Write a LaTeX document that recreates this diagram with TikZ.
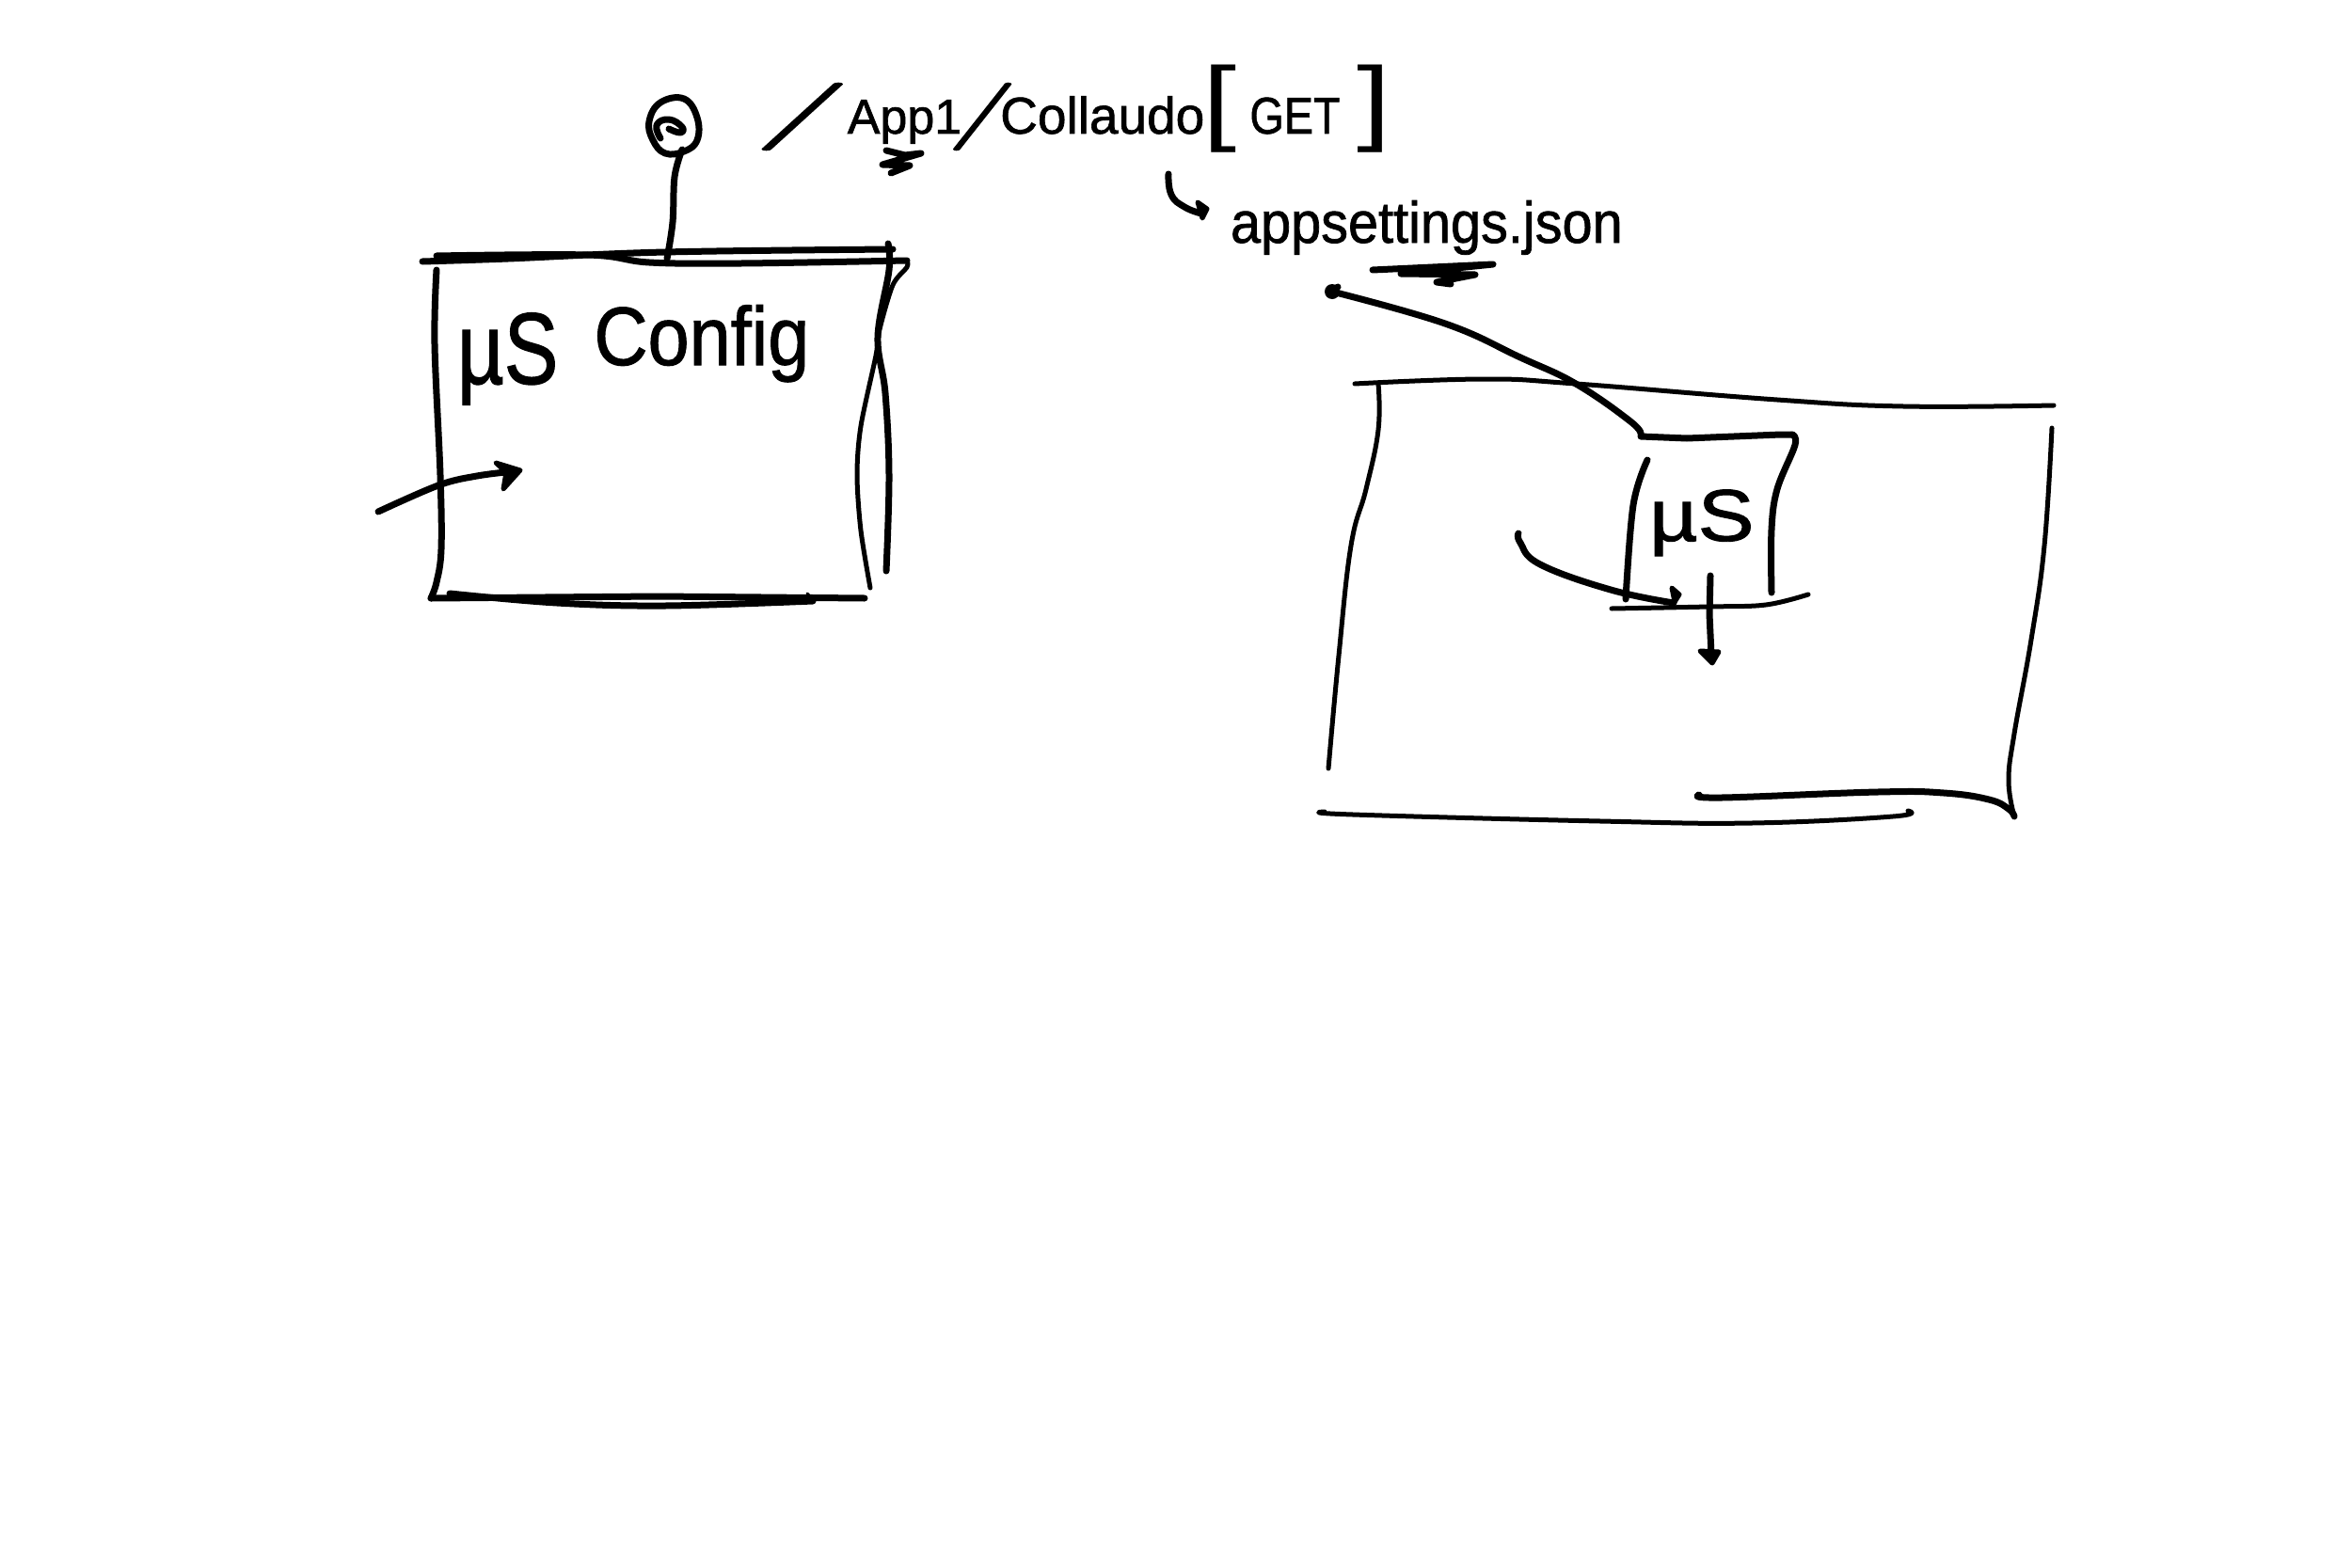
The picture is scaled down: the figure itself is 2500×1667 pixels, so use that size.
\documentclass[tikz,border=0pt]{standalone}
\usepackage{fontspec}
\usepackage{graphicx}
\setmainfont[FakeBold=1.2]{Liberation Sans}
\newfontfamily\plainfont{Liberation Sans}
\newfontfamily\lmfont[FakeBold=1]{Latin Modern Roman}
\newcommand\fsz[1]{\fontsize{#1}{#1}\selectfont}
\newcommand\bigslash[1]{{\lmfont\fsz{72}\scalebox{#1}[1]{/}}}
\newcommand\bigbracket[1]{{\plainfont\fsz{100}\scalebox{1.3}[1]{#1}}}
\tikzset{
  ink/.style={line width=7pt,line cap=round,line join=round,black},
  thinink/.style={line width=5pt,line cap=round,line join=round,black},
  txt/.style={inner sep=0pt,outer sep=0pt,anchor=base west,black}
}
\begin{document}
\begin{tikzpicture}[x=1pt,y=-1pt]
\useasboundingbox (0,0) rectangle (2500,1667);
\fill[white] (0,0) rectangle (2500,1667);

% left box
\draw[ink] plot[smooth,tension=.6] coordinates {(464,272) (625,271) (690,279) (788,280) (964,277)};
\draw[ink] plot[smooth,tension=.6] coordinates {(449,278) (540,275) (707,268) (949,265)};
\draw[thinink] plot[smooth,tension=.5] coordinates {(964,277) (964,284) (949,303) (935,350) (931,378) (915,453) (911,505) (915,564) (925,625)};
\draw[ink] plot[smooth,tension=.6] coordinates {(944,259) (945,287) (933,358) (941,418) (945,505) (942,607)};
\draw[ink] plot[smooth,tension=.6] coordinates {(464,287) (462,366) (468,505) (469,584) (464,619) (458,636)};
\draw[ink] (458,636) -- (700,634) -- (919,636);
\draw[ink] plot[smooth,tension=.6] coordinates {(478,631) (592,641) (707,644) (864,639)};
\draw[line width=3pt,line cap=round] (858,631) -- (866,639);

% pin on the box
\draw[ink] plot[smooth,tension=.6] coordinates {(725,159) (717,188) (715,236) (709,275)};
\draw[ink] plot[smooth cycle,tension=.7] coordinates {(690,129) (702,109) (727,105) (741,125) (741,149) (727,161) (707,163) (694,149)};
\draw[ink] plot[smooth,tension=.8] coordinates {(702,147) (698,133) (711,127) (725,135) (723,141) (711,137)};

% incoming arrow left box
\draw[ink] plot[smooth,tension=.6] coordinates {(402,544) (466,516) (507,506) (547,501)};
\fill[black,draw=black,line width=5pt,line join=round] (527,492) -- (553,500) -- (535,520) -- (538,502) -- cycle;

% labels
\node[txt] (msconfig) at (486,408) {\fsz{108}\scalebox{.8}[1]{µS}\hspace{38pt}\raisebox{20pt}{\fsz{88}\scalebox{.9}[1]{Config}}};
\node[txt] (route) at (800,142) {\bigslash{3.2}\hspace{-5pt}\fsz{52}App1\hspace{-16pt}\bigslash{2.3}\hspace{-19pt}\fsz{55}Collaudo\hspace{-2pt}\bigbracket{[}\hspace{14pt}\fsz{55}\scalebox{.85}[1]{GET}\hspace{18pt}\bigbracket{]}};
\draw[ink] (942,160) -- (962,165) -- (979,163) -- (938,175) -- (967,176) -- (947,184);

\draw[ink] plot[smooth,tension=.8] coordinates {(1242,185) (1245,207) (1259,220) (1277,227)};
\fill[black,draw=black,line width=5pt,line join=round] (1273,215) -- (1283,222) -- (1278,232) -- cycle;

\node[txt] (settings) at (1308,258) {\fsz{62}\scalebox{.93}[1]{appsettings.json}};
\draw[ink] (1459,287) -- (1587,281) -- (1489,291) -- (1568,292) -- (1527,300) -- (1542,302);

% right box
\draw[thinink] plot[smooth,tension=.7] coordinates {(1440,408) (1578,403) (1675,408) (1889,425) (2023,432) (2183,431)};
\draw[thinink] plot[smooth,tension=.7] coordinates {(1465,408) (1465,457) (1452,520) (1436,580) (1423,697) (1412,817)};
\draw[thinink] plot[smooth,tension=.7] coordinates {(2181,455) (2173,580) (2159,680) (2141,780) (2135,830) (2141,868)};
\draw[ink] plot[smooth,tension=.7] coordinates {(1806,845) (1830,848) (1996,842) (2066,843) (2114,850) (2135,860) (2141,868)};
\draw[thinink] plot[smooth,tension=.7] coordinates {(1408,863) (1438,866) (1701,873) (1862,875) (2012,868) (2028,862)};

% pointer from appsettings to inner box
\draw[ink] plot[smooth,tension=.7] coordinates {(1416,310) (1536,344) (1616,380) (1675,408) (1733,448) (1744,462)};
\draw[ink] (1416,310) -- (1422,305);
\fill[black] (1416,310) circle (8pt);
\draw[ink] (1744,464) -- (1793,466) -- (1893,462) -- (1905,462);
\draw[ink] plot[smooth,tension=.6] coordinates {(1905,462) (1908,473) (1889,520) (1883,563) (1883,630)};
\draw[ink] plot[smooth,tension=.6] coordinates {(1751,489) (1736,537) (1728,637)};

\node[txt] (ms) at (1753,575) {\fsz{78}\scalebox{1.15}[1]{µS}};

% inner arrows and base line
\draw[ink] plot[smooth,tension=.7] coordinates {(1614,567) (1616,577) (1637,600) (1712,627) (1779,641)};
\fill[black,draw=black,line width=5pt,line join=round] (1777,625) -- (1785,632) -- (1780,640) -- cycle;
\draw[thinink] plot[smooth,tension=.6] coordinates {(1713,647) (1817,645) (1877,643) (1922,632)};
\draw[ink] (1818,612) -- (1817,653) -- (1819,696);
\fill[black,draw=black,line width=5pt,line join=round] (1807,692) -- (1827,693) -- (1820,705) -- cycle;
\end{tikzpicture}
\end{document}
